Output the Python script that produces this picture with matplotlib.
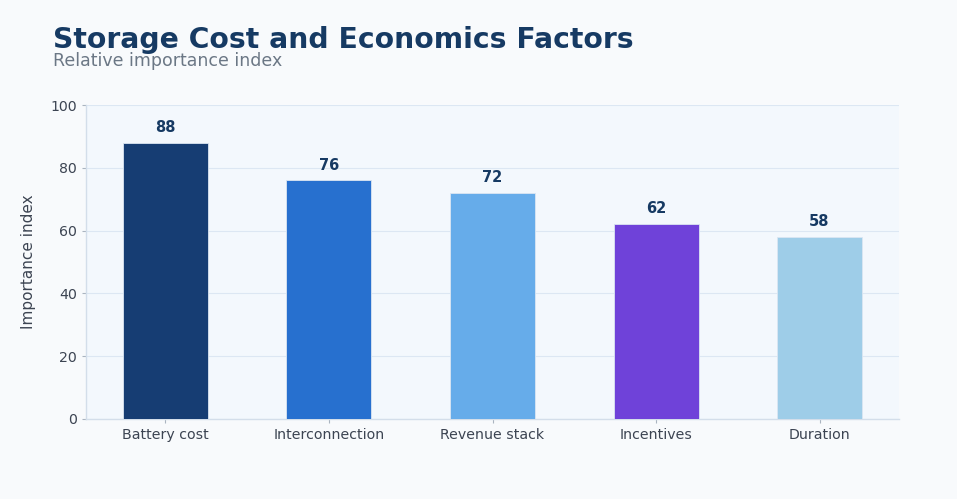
import matplotlib
matplotlib.use("Agg")
import matplotlib.pyplot as plt

categories = ["Battery cost", "Interconnection", "Revenue stack", "Incentives", "Duration"]
values = [88, 76, 72, 62, 58]
bar_colors = ["#163d73", "#2770cf", "#66acea", "#6f42d9", "#9ecde8"]
y_ticks = [0, 20, 40, 60, 80, 100]

fig = plt.figure(figsize=(9.57, 4.99), dpi=100, facecolor="#f8fafc")
ax = fig.add_axes([86 / 957, 80 / 499, (899 - 86) / 957, (419 - 105) / 499])
ax.set_facecolor("#f3f8fd")

x = range(len(categories))
bars = ax.bar(x, values, width=0.52, color=bar_colors, edgecolor="#dbe6f2", linewidth=0.6, zorder=3)

for b, v in zip(bars, values):
    ax.text(b.get_x() + b.get_width() / 2, v + 2.5, str(v), ha="center", va="bottom",
            fontsize=10.5, fontweight="bold", color="#163a63", zorder=4)

ax.set_ylim(0, 100)
ax.set_yticks(y_ticks)
ax.set_xticks(list(x))
ax.set_xticklabels(categories)
ax.tick_params(axis="both", labelsize=10.2, colors="#3c4452", length=3)
ax.tick_params(axis="both", color="#aab4c0")
ax.grid(axis="y", color="#dce7f3", linewidth=0.8, zorder=0)
ax.set_axisbelow(True)
for s in ["top", "right"]:
    ax.spines[s].set_visible(False)
for s in ["left", "bottom"]:
    ax.spines[s].set_color("#d3deea")
    ax.spines[s].set_linewidth(1.0)
ax.set_ylabel("Importance index", fontsize=11, color="#3c4452", labelpad=10)

fig.text(53 / 957, 1 - 40 / 499, "Storage Cost and Economics Factors", fontsize=20.3,
         fontweight="bold", color="#163a63", va="center", ha="left")
fig.text(53 / 957, 1 - 61.5 / 499, "Relative importance index", fontsize=12.5,
         color="#6b7785", va="center", ha="left")

fig.savefig("out.png", dpi=100, facecolor=fig.get_facecolor())
